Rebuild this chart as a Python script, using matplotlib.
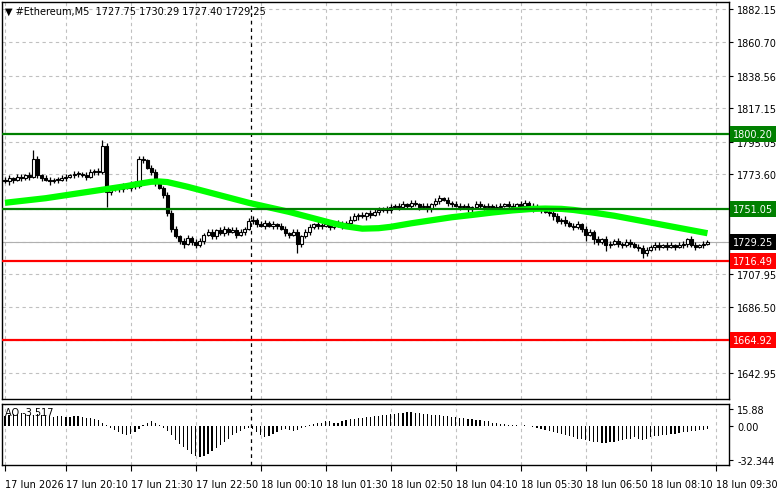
import matplotlib
matplotlib.use("Agg")
import matplotlib.pyplot as plt
import numpy as np

closes = [1769,1771,1770,1772,1771,1773,1772,
          1784,1773,
          1771,1770,1769,1770,1770,
          1771,1772,1773,1774,1774,1773,1772,1775,1776,
          1775,1792,1762,
          1764,1765,1764,1766,1765,1767,1766,
          1784,1783,1778,1775,1768,1765,
          1760,1748,1738,1733,1730,1728,1732,1729,1727,1730,
          1734,1736,1733,1737,1735,1738,1736,1737,1734,1736,1738,1743,
          1744,1741,1740,1742,1740,1741,1740,1738,1735,1734,1736,
          1728,1733,1736,1739,
          1741,1740,1740,1741,1739,1742,1741,1740,1742,1744,
          1746,1747,1746,1748,1747,1749,1750,1751,1750,1752,
          1753,1752,1754,1753,1755,1754,1752,1753,1751,1754,1756,1758,1757,1755,1754,
          1753,1752,1753,1751,1752,1754,1753,1752,1753,1751,1752,1753,
          1754,1753,1752,1754,1753,1755,1753,1751,1752,1750,1749,1748,
          1746,1743,1744,1742,1740,1739,1741,1738,1734,1736,1731,1729,
          1731,1727,1728,1730,1728,1727,1729,1728,1726,1725,1722,
          1724,1726,1727,1726,1727,1726,1727,1726,1727,1728,1731,1727,1726,1727,1728,1729.25]
first_open = 1770
wick_up = [2,2,1,2,2,1,2, 6,2, 1,2,2,1,2, 2,2,1,2,2,1,2,2,1, 2,4,2, 2,1,2,2,1,2,2,
           2,2,1,2,2,1, 1,2,2,2,1,2,2,1,2,2, 1,2,2,1,2,2,1,2,2,2,1,2,
           2,1,2,2,1,2,1,2,2,1,2, 2,1,2,2, 1,2,2,1,2,1,2,2,1,2,
           2,1,2,1,2,2,2,1,2,2, 1,2,2,1,2,2,1,2,2,1,2,2,1,2,1,
           2,2,1,2,1,2,2,1,2,1,2,2, 1,2,2,1,2,2,1,2,2,1,2,1,
           2,2,1,2,1,2,2,1,2,2,1,2, 1,2,2,1,2,1,2,2,1,2,2,
           2,1,2,2,1,2,2,1,2,2,1,2,2,1,2,1]
wick_dn = [1,2,2,1,2,1,2, 1,2, 2,1,2,1,2, 1,2,1,2,2,1,2,1,2, 2,1,10, 2,1,2,2,1,2,2,
           1,2,1,2,2,1, 2,2,2,1,2,3,1,2,2,1, 2,1,2,2,1,2,2,1,2,1,2,1,
           2,2,1,2,1,2,2,1,2,2,1, 6,2,1,2, 1,2,2,1,2,1,2,2,1,2,
           1,2,1,2,2,1,2,1,2,2, 1,2,1,2,2,1,2,1,2,2,1,2,1,2,2,
           1,2,1,2,2,1,2,2,1,2,1,2, 1,2,1,2,2,1,2,2,1,2,1,2,
           2,1,2,2,1,2,1,2,4,1,3,2, 1,4,2,1,2,2,1,2,1,2,3,
           2,1,2,2,1,2,1,2,1,2,2,1,2,1,2,1]
ma_idx = [0,5,10,15,20,25,30,33,36,38,40,45,50,55,60,65,70,75,80,84,88,92,95,100,105,110,115,120,125,130,133,137,140,145,150,155,160,165,170,173]
ma_val = [1755,1756.5,1758,1760,1762,1764,1766,1767.5,1768.8,1769,1768.6,1765.5,1762,1758.5,1755,1752,1749,1745.5,1742,1739.5,1738,1738.3,1739.2,1741.5,1743.5,1745.5,1747,1748.6,1750,1751,1751.2,1751,1750.3,1748.5,1746.5,1744,1741.5,1739,1736.5,1735]
ao = [9,10,11,11,12,11,10,10,11,10,9,9,8,9,9,8,8,9,9,8,7,7,6,5,
      3,1,-2,-4,-6,-8,-9,-8,-6,-3,1,3,4,3,1,
      -2,-5,-9,-13,-17,-20,-23,-26,-28,-29,-28,-26,-24,-21,-18,-15,-12,-9,-7,-5,-3,-2,
      -3,-6,-9,-11,-10,-8,-6,-4,-3,-4,-5,-4,-2,-1,1,
      2,3,3,4,4,3,3,4,5,6,6,7,7,8,8,9,9,10,10,11,
      11,12,12,13,13,12,12,11,11,10,10,10,9,9,8,8,7,7,6,6,5,5,4,4,3,3,2,
      2,1,1,1,0,1,0,-1,-2,-3,-4,-5,
      -6,-7,-8,-9,-10,-11,-12,-12,-13,-14,-15,-15,-16,-16,-15,-15,-14,-13,-12,-12,-11,-12,-13,
      -12,-11,-10,-10,-9,-9,-8,-8,-7,-6,-6,-5,-5,-4,-4,-3.5]
price_ticks = [1882.15,1860.70,1838.56,1817.15,1795.05,1773.60,1707.95,1686.50,1642.95]
levels = [(1800.20,'#008000'),(1751.05,'#008000'),(1716.49,'#ff0000'),(1664.92,'#ff0000')]
current = 1729.25
time_idx = [0,15,31,47,63,79,95,111,127,143,159,175]
time_labels = ['17 Jun 2026','17 Jun 20:10','17 Jun 21:30','17 Jun 22:50','18 Jun 00:10','18 Jun 01:30',
               '18 Jun 02:50','18 Jun 04:10','18 Jun 05:30','18 Jun 06:50','18 Jun 08:10','18 Jun 09:30']
ao_ticks = [15.88,0.00,-32.344]
ao_tick_labels = ['15.88','0.00','-32.344']

W,H = 781,489
fig = plt.figure(figsize=(W/100,H/100),dpi=100)
def rect(x0,y0,x1,y1):
    return [x0/W,1-y1/H,(x1-x0)/W,(y1-y0)/H]
ax = fig.add_axes(rect(2,3,729,400))
ax2 = fig.add_axes(rect(2,405,729,466))
n = min(len(closes),len(wick_up),len(wick_dn))
opens = [first_open]+closes[:-1]
x = np.arange(n)
xl = (-0.74,178.3)
for a in (ax,ax2):
    a.set_xlim(*xl)
    for s in a.spines.values(): s.set_color('black'); s.set_linewidth(1)
    a.set_facecolor('white')
    for t in time_idx:
        a.axvline(t,color='#c0c0c0',ls=(0,(3,3)),lw=0.8,zorder=0)
    a.axvline(60.6,color='black',ls=(0,(3,3)),lw=0.9,zorder=1)
ax.set_ylim(1626.1,1886.9)
for p in price_ticks+[1751.05,1729.25,1664.92]:
    ax.axhline(p,color='#c0c0c0',ls=(0,(3,3)),lw=0.8,zorder=0)
for i in range(n):
    o,c = opens[i],closes[i]
    hi,lo = max(o,c)+wick_up[i],min(o,c)-wick_dn[i]
    ax.vlines(i,lo,hi,color='black',lw=0.9,zorder=3)
    body = max(abs(c-o),0.5)
    ax.bar(i,body,bottom=min(o,c),width=0.75,facecolor='white' if c>=o else 'black',
           edgecolor='black',lw=0.8,zorder=4)
ax.plot(ma_idx,ma_val,color='#00ff00',lw=4.5,zorder=5,solid_capstyle='butt',solid_joinstyle='round')
ax.axhline(current,color='#b0b0b0',lw=0.8,zorder=2)
for p,c in levels:
    ax.axhline(p,color=c,lw=1.6,zorder=6)
ax.yaxis.tick_right()
ax.set_yticks(price_ticks)
ax.set_yticklabels([f'{p:.2f}' for p in price_ticks],fontsize=7)
ax.tick_params(axis='y',length=3,pad=3)
ax.set_xticks([])
for p,bg in [(1800.20,'#008000'),(1751.05,'#008000'),(1729.25,'black'),(1716.49,'#ff0000'),(1664.92,'#ff0000')]:
    ax.annotate(f'{p:.2f}',xy=(1.0,p),xycoords=('axes fraction','data'),xytext=(3,0),
                textcoords='offset points',va='center',ha='left',fontsize=7,color='white',
                bbox=dict(boxstyle='square,pad=0.3',fc=bg,ec='none'),annotation_clip=False)
ax.text(0.004,0.99,'▼ #Ethereum,M5  1727.75 1730.29 1727.40 1729.25',transform=ax.transAxes,
        fontsize=7,va='top',ha='left')
ax2.bar(x[:len(ao)],ao[:n],width=0.3,color='black',zorder=3)
ax2.set_ylim(-36.7,20.3)
ax2.yaxis.tick_right()
ax2.set_yticks(ao_ticks)
ax2.set_yticklabels(ao_tick_labels,fontsize=7)
ax2.tick_params(axis='y',length=3,pad=3)
ax2.set_xticks(time_idx)
ax2.set_xticklabels(time_labels,fontsize=7,ha='left')
ax2.tick_params(axis='x',length=4,pad=6)
ax2.text(0.004,0.95,'AO -3.517',transform=ax2.transAxes,fontsize=7,va='top',ha='left')
fig.savefig('out.png',dpi=100)
